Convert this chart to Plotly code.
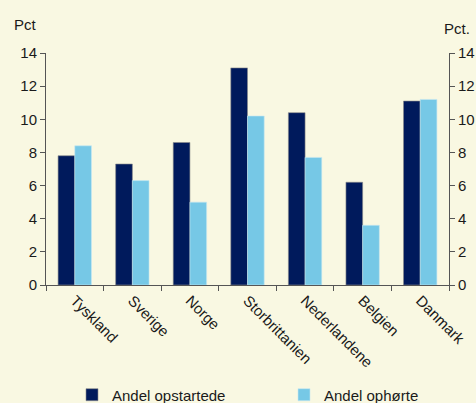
import plotly.graph_objects as go

categories = ["Tyskland", "Sverige", "Norge", "Storbrittanien", "Nederlandene", "Belgien", "Danmark"]
opstartede = [7.8, 7.3, 8.6, 13.1, 10.4, 6.2, 11.1]
ophoerte = [8.4, 6.3, 5.0, 10.2, 7.7, 3.6, 11.2]
y_ticks = [0, 2, 4, 6, 8, 10, 12, 14]

BG = "#F9F8E2"
DARK = "#001A5C"
LIGHT = "#76C8E6"
TXT = "#1A1A1A"
AX = "#555555"
FONT = "Liberation Sans, Arial, sans-serif"
FS = 15

fig = go.Figure()
fig.add_trace(go.Bar(x=categories, y=opstartede, name="Andel opstartede", legend="legend",
                     marker=dict(color=DARK, line=dict(color="#8A8A8A", width=0.6))))
fig.add_trace(go.Bar(x=categories, y=ophoerte, name="Andel ophørte", legend="legend2",
                     marker=dict(color=LIGHT, line=dict(color="#C8E8F2", width=0.6))))
fig.add_trace(go.Scatter(x=[categories[0]], y=[None], yaxis="y2", showlegend=False,
                         hoverinfo="skip", mode="markers"))

axis_common = dict(range=[0, 14], tickvals=y_ticks, showgrid=False, zeroline=False,
                   showline=True, linecolor=AX, linewidth=1, ticks="outside", automargin=False,
                   ticklen=5, tickcolor=AX, tickfont=dict(size=FS, color=TXT, family=FONT))

legend_common = dict(orientation="h", xref="container", yref="container", xanchor="left",
                     y=0.02, yanchor="middle", itemwidth=30,
                     font=dict(size=FS, color=TXT, family=FONT), bgcolor="rgba(0,0,0,0)")

fig.update_layout(
    width=476, height=403,
    paper_bgcolor=BG, plot_bgcolor=BG,
    margin=dict(l=46, r=27, t=53, b=118, autoexpand=False),
    barmode="group", bargap=0.42, bargroupgap=0.0,
    font=dict(family=FONT, color=TXT, size=FS),
    xaxis=dict(showline=True, linecolor=AX, linewidth=1, ticks="outside", automargin=False,
               tickson="boundaries", ticklen=5, tickcolor=AX, tickangle=45,
               tickfont=dict(size=FS, color=TXT, family=FONT), showgrid=False),
    yaxis=dict(**axis_common),
    yaxis2=dict(overlaying="y", side="right", **axis_common),
    legend=dict(x=72 / 476, **legend_common),
    legend2=dict(x=284 / 476, **legend_common),
    annotations=[
        dict(text="Pct", xref="paper", yref="paper", x=-0.085, y=1.122, xanchor="left",
             yanchor="middle", showarrow=False, font=dict(size=FS, color=TXT, family=FONT)),
        dict(text="Pct.", xref="paper", yref="paper", x=0.982, y=1.107, xanchor="left",
             yanchor="middle", showarrow=False, font=dict(size=FS, color=TXT, family=FONT)),
    ],
)

fig.write_html("out.html", config={"displayModeBar": False},
               post_script="document.body.style.margin='0';document.body.style.background='" + BG + "';")
